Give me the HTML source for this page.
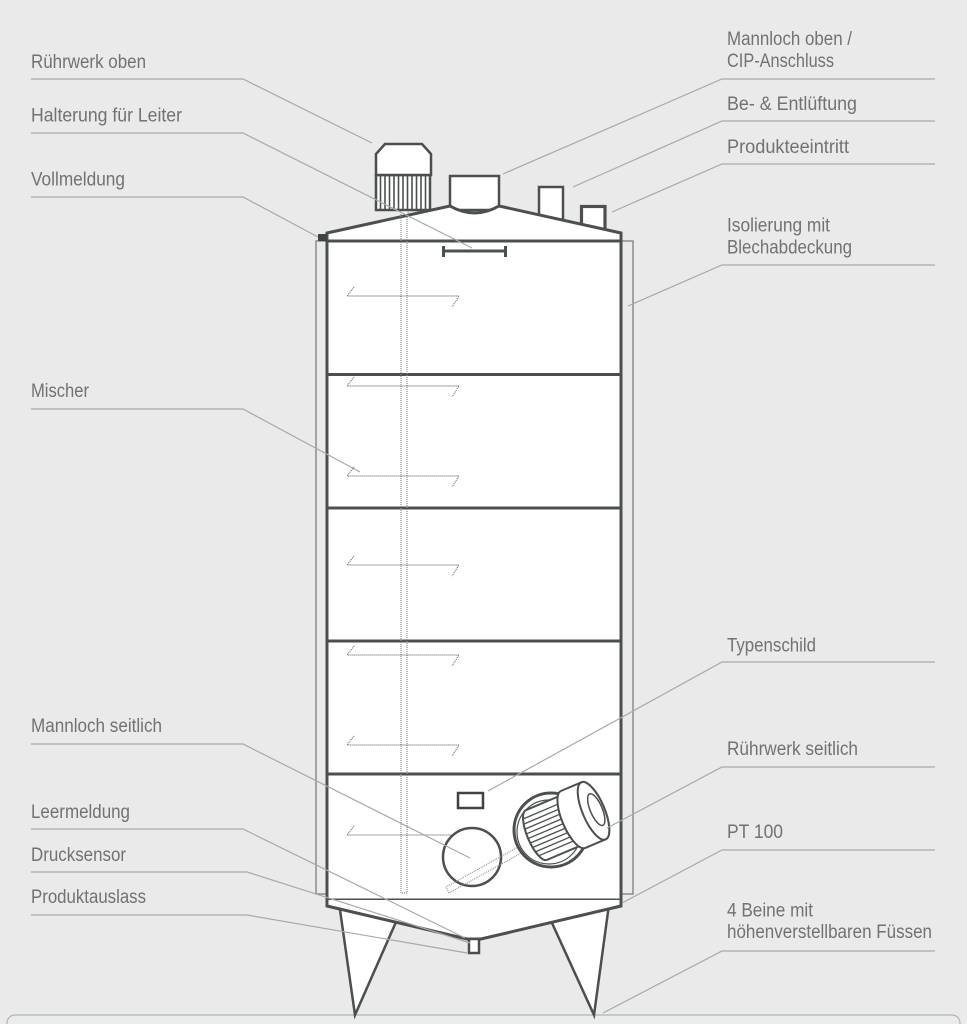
<!DOCTYPE html>
<html><head><meta charset="utf-8"><style>
html,body{margin:0;padding:0;background:#e9eae9;}
svg{display:block;}
text{font-family:"Liberation Sans",sans-serif;font-size:19px;fill:#707372;}
</style></head><body>
<svg width="967" height="1024" viewBox="0 0 967 1024" xmlns="http://www.w3.org/2000/svg">
<rect x="0" y="0" width="967" height="1024" fill="#e9eae9"/>
<!-- footer -->
<rect x="7" y="1015" width="953" height="30" rx="8" fill="#ebecec" stroke="#b3b5b4" stroke-width="1.2"/>

<g stroke="#4b504d" stroke-linejoin="miter" fill="#fff">
<!-- legs -->
<polygon points="338.6,900 405.7,900 355,1015" stroke-width="2.5"/>
<polygon points="541.5,900 609.6,900 594,1015" stroke-width="2.5"/>
<!-- insulation -->
<rect x="316" y="241" width="317" height="653" fill="#e9eae9" stroke="#7a7e7c" stroke-width="1.3"/>
<!-- nozzles -->
<rect x="539" y="187" width="24" height="40" stroke-width="2.5"/>
<rect x="581.5" y="206.5" width="23.5" height="26" stroke-width="3.2"/>
<!-- manhole top -->
<rect x="450" y="176" width="49" height="34" stroke-width="2.5"/>
<!-- motor neck -->
<rect x="401" y="209" width="7" height="10" stroke="#888" stroke-width="1" stroke-dasharray="1,1"/>
<!-- roof -->
<path d="M327,241 L327,233 L450,206 Q474.5,220 499,206 L621,233 L621,241 Z" stroke-width="3"/>
<!-- tank body -->
<rect x="327" y="241" width="294" height="659" stroke-width="3"/>
<!-- bottom cone -->
<path d="M327,900 L327,906 L467,939 L481,939 L621,906 L621,900" stroke-width="3"/>
<rect x="469" y="939" width="10" height="14" stroke-width="2.5"/>
<!-- top motor -->
<rect x="376" y="175" width="54" height="35" stroke-width="2.5"/>
<path d="M376,154 L385,144 L422,144 L431,154 L431,175 L376,175 Z" stroke-width="2.5"/>
</g>
<!-- fins top motor -->
<g stroke="#4b504d" stroke-width="1.6">
<line x1="380.5" y1="175" x2="380.5" y2="210"/>
<line x1="385" y1="175" x2="385" y2="210"/>
<line x1="389.5" y1="175" x2="389.5" y2="210"/>
<line x1="394" y1="175" x2="394" y2="210"/>
<line x1="398.5" y1="175" x2="398.5" y2="210"/>
<line x1="403" y1="175" x2="403" y2="210"/>
<line x1="407.5" y1="175" x2="407.5" y2="210"/>
<line x1="412" y1="175" x2="412" y2="210"/>
<line x1="416.5" y1="175" x2="416.5" y2="210"/>
<line x1="421" y1="175" x2="421" y2="210"/>
<line x1="425.5" y1="175" x2="425.5" y2="210"/>
</g>
<!-- section lines -->
<g stroke="#4b504d" stroke-width="3">
<line x1="327" y1="374.5" x2="621" y2="374.5"/>
<line x1="327" y1="508" x2="621" y2="508"/>
<line x1="327" y1="641" x2="621" y2="641"/>
<line x1="327" y1="774" x2="621" y2="774"/>
<line x1="327" y1="241" x2="621" y2="241"/>
</g>
<!-- vollmeldung square -->
<rect x="318" y="234" width="9" height="7" fill="#3f4441"/>
<!-- halterung -->
<g stroke="#4b504d" stroke-width="3">
<line x1="443" y1="251" x2="506" y2="251"/>
<line x1="443.5" y1="246" x2="443.5" y2="257"/>
<line x1="505.5" y1="246" x2="505.5" y2="257"/>
</g>
<!-- mixer shaft -->
<g stroke="#8d908e" stroke-width="1.2" stroke-dasharray="1,1" fill="none">
<path d="M401,214 L401,893 L407,893 L407,214"/>
</g>
<!-- blades -->
<g stroke="#6c706e" stroke-width="1.2" stroke-dasharray="1,1" fill="none">
<path d="M354,287 L347,296 L459,296 L452,307"/>
<path d="M354,377 L347,386 L459,386 L452,397"/>
<path d="M354,467 L347,476 L459,476 L452,487"/>
<path d="M354,556 L347,565 L459,565 L452,576"/>
<path d="M354,646 L347,655 L459,655 L452,666"/>
<path d="M354,736 L347,745 L459,745 L452,756"/>
<path d="M354,826 L347,835 L459,835 L452,846"/>
</g>
<!-- typenschild -->
<rect x="458" y="793" width="25" height="15" fill="#fff" stroke="#3f4441" stroke-width="2.5"/>
<!-- side manhole -->
<circle cx="472" cy="857" r="29" fill="#fff" stroke="#4b504d" stroke-width="2.5"/>
<!-- side motor shaft dotted -->
<g stroke="#8d908e" stroke-width="1.1" stroke-dasharray="1,1" fill="none">
<path d="M520,846 L446,887 L449,893 L523,852"/>
</g>
<!-- side motor -->
<circle cx="551" cy="830" r="37" fill="#fff" stroke="#4b504d" stroke-width="3"/>
<circle cx="549" cy="832" r="32" fill="none" stroke="#4b504d" stroke-width="1.2"/>
<g transform="translate(553,828) rotate(-23)" stroke="#4b504d" fill="#fff">
<path d="M-18,-27 L26,-27 A9,27 0 0 1 26,27 L-18,27 A9,27 0 0 1 -18,-27 Z" stroke-width="2"/>
<g stroke-width="1.3">
<line x1="-24" y1="-20" x2="24" y2="-20"/>
<line x1="-26" y1="-15" x2="24" y2="-15"/>
<line x1="-27" y1="-10" x2="24" y2="-10"/>
<line x1="-27" y1="-5" x2="24" y2="-5"/>
<line x1="-27" y1="0" x2="24" y2="0"/>
<line x1="-27" y1="5" x2="24" y2="5"/>
<line x1="-27" y1="10" x2="24" y2="10"/>
<line x1="-26" y1="15" x2="24" y2="15"/>
<line x1="-24" y1="20" x2="24" y2="20"/>
</g>
<path d="M22,-31 L44,-31 A11,31 0 0 1 44,31 L22,31 A11,31 0 0 1 22,-31 Z" stroke-width="2"/>
<ellipse cx="44" cy="0" rx="11" ry="31" stroke-width="2"/>
<ellipse cx="47" cy="0" rx="6" ry="17" stroke-width="1.5"/>
</g>

<!-- leader lines -->
<g stroke="#a7aaa8" stroke-width="1.2" fill="none">
<polyline points="31,79 243,79 372,143"/>
<polyline points="31,133 243,133 472,248"/>
<polyline points="31,197 243,197 318,237"/>
<polyline points="31,409 243,409 360,472"/>
<polyline points="31,744 243,744 470,858"/>
<polyline points="31,829 243,829 465,938"/>
<polyline points="31,872 247,872 470,943"/>
<polyline points="31,915 247,915 467,953"/>
<polyline points="935,79 722,79 503,174"/>
<polyline points="935,121 722,121 573,187"/>
<polyline points="935,164 722,164 612,212"/>
<polyline points="935,265 722,265 628,306"/>
<polyline points="935,662 722,662 488,791"/>
<polyline points="935,767 722,767 607,828"/>
<polyline points="935,850 722,850 622,903"/>
<polyline points="935,951 722,951 603,1013"/>
</g>

<!-- labels -->
<text x="31" y="68" textLength="115" lengthAdjust="spacingAndGlyphs">Rührwerk oben</text>
<text x="31" y="121.5" textLength="151" lengthAdjust="spacingAndGlyphs">Halterung für Leiter</text>
<text x="31" y="185.5" textLength="94" lengthAdjust="spacingAndGlyphs">Vollmeldung</text>
<text x="31" y="397" textLength="58" lengthAdjust="spacingAndGlyphs">Mischer</text>
<text x="31" y="732" textLength="131" lengthAdjust="spacingAndGlyphs">Mannloch seitlich</text>
<text x="31" y="818" textLength="99" lengthAdjust="spacingAndGlyphs">Leermeldung</text>
<text x="31" y="861" textLength="95" lengthAdjust="spacingAndGlyphs">Drucksensor</text>
<text x="31" y="903" textLength="115" lengthAdjust="spacingAndGlyphs">Produktauslass</text>

<text x="727" y="45" textLength="125" lengthAdjust="spacingAndGlyphs">Mannloch oben /</text>
<text x="727" y="67" textLength="107" lengthAdjust="spacingAndGlyphs">CIP-Anschluss</text>
<text x="727" y="110" textLength="130" lengthAdjust="spacingAndGlyphs">Be- &amp; Entlüftung</text>
<text x="727" y="153" textLength="122" lengthAdjust="spacingAndGlyphs">Produkteeintritt</text>
<text x="727" y="231.5" textLength="103" lengthAdjust="spacingAndGlyphs">Isolierung mit</text>
<text x="727" y="253.5" textLength="125" lengthAdjust="spacingAndGlyphs">Blechabdeckung</text>
<text x="727" y="651.5" textLength="89" lengthAdjust="spacingAndGlyphs">Typenschild</text>
<text x="727" y="755" textLength="131" lengthAdjust="spacingAndGlyphs">Rührwerk seitlich</text>
<text x="727" y="838" textLength="56" lengthAdjust="spacingAndGlyphs">PT 100</text>
<text x="727" y="916.5" textLength="86" lengthAdjust="spacingAndGlyphs">4 Beine mit</text>
<text x="727" y="938" textLength="205" lengthAdjust="spacingAndGlyphs">höhenverstellbaren Füssen</text>
</svg>
</body></html>
